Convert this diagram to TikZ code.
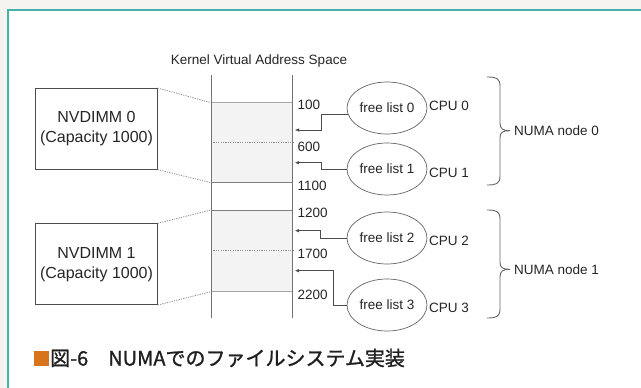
\documentclass[tikz,border=0pt]{standalone}
\usepackage{fontspec}
\setmainfont{Liberation Sans}
\newfontfamily\cjk[FakeBold=1.2]{Noto Sans CJK JP}
\usetikzlibrary{arrows.meta,shapes.geometric}
\definecolor{frameteal}{HTML}{45B3A8}
\definecolor{capor}{HTML}{D8741C}
\definecolor{outbg}{HTML}{F6F4F1}
\definecolor{rowfill}{HTML}{F3F3F3}
\begin{document}
\begin{tikzpicture}[x=1pt,y=-1pt,
  lbl/.style={font=\fontsize{13.5}{16}\selectfont, text=black!85, inner sep=0},
  ell/.style={ellipse, draw=black!60, line width=0.7pt, minimum width=80pt, minimum height=52pt, inner sep=0, fill=white, font=\fontsize{13.5}{16}\selectfont, text=black!85},
  nvbox/.style={draw=black!70, line width=0.7pt, minimum width=121.6pt, minimum height=81pt, inner sep=0, align=center, font=\fontsize{16}{20}\selectfont, text=black!85},
  arr/.style={draw=black!70, line width=0.9pt, -{Latex[length=4.5pt,width=3.5pt]}},
  dotl/.style={draw=black!45, line width=0.8pt, dash pattern=on 1.2pt off 1.2pt},
  coll/.style={draw=black!55, line width=0.9pt},
  rowl/.style={draw=black!35, line width=0.8pt},
  brc/.style={draw=black!60, line width=0.9pt}
]
% background and frame
\fill[outbg] (0,0) rectangle (641,388);
\fill[white] (8,10) rectangle (641,388);
\useasboundingbox (0,0) rectangle (641,388);
\draw[frameteal, line width=2pt] (7.3,10) -- (641,10);
\draw[frameteal, line width=1.5pt] (8,9) -- (8,388);

% title
\node[lbl] (title) at (259,61) {Kernel Virtual Address Space};

% address column
\fill[rowfill] (211,102.7) rectangle (292.7,182.7);
\fill[rowfill] (211,210) rectangle (292.7,291.7);
\coordinate (c100l) at (211,102.7);  \coordinate (c100r) at (292.7,102.7);
\coordinate (c600l) at (211,142.7);  \coordinate (c600r) at (292.7,142.7);
\coordinate (c1100l) at (211,182.7); \coordinate (c1100r) at (292.7,182.7);
\coordinate (c1200l) at (211,210);   \coordinate (c1200r) at (292.7,210);
\coordinate (c1700l) at (211,250.7); \coordinate (c1700r) at (292.7,250.7);
\coordinate (c2200l) at (211,291.7); \coordinate (c2200r) at (292.7,291.7);
\draw[rowl] (c100l) -- (c100r);
\draw[dotl] (c600l) -- (c600r);
\draw[rowl, draw=black!50] (c1100l) -- (c1100r);
\draw[rowl, draw=black!50] (c1200l) -- (c1200r);
\draw[dotl] (c1700l) -- (c1700r);
\draw[rowl] (c2200l) -- (c2200r);
\coordinate (coltl) at (211,75);   \coordinate (colbl) at (211,318);
\coordinate (coltr) at (292.7,75); \coordinate (colbr) at (292.7,318);
\draw[coll] (coltl) -- (colbl);
\draw[coll] (coltr) -- (colbr);

% address labels
\node[lbl, anchor=west] (a100)  at (297.5,105)   {100};
\node[lbl, anchor=west] (a600)  at (297.5,146.5) {600};
\node[lbl, anchor=west] (a1100) at (297.5,186)   {1100};
\node[lbl, anchor=west] (a1200) at (297.5,213)   {1200};
\node[lbl, anchor=west] (a1700) at (297.5,254)   {1700};
\node[lbl, anchor=west] (a2200) at (297.5,295)   {2200};

% NVDIMM boxes
\node[nvbox] (nv0) at (96.5,128.8) {NVDIMM 0\\(Capacity 1000)};
\node[nvbox] (nv1) at (96.5,264.2) {NVDIMM 1\\(Capacity 1000)};
\draw[dotl] (nv0.north east) -- (c100l);
\draw[dotl] (nv0.south east) -- (c1100l);
\draw[dotl] (nv1.north east) -- (c1200l);
\draw[dotl] (nv1.south east) -- (c2200l);

% free lists
\node[ell] (fl0) at (387,108) {free list 0};
\node[ell] (fl1) at (387,169) {free list 1};
\node[ell] (fl2) at (387,238) {free list 2};
\node[ell] (fl3) at (387,305) {free list 3};

\node[lbl, anchor=west] (cpu0) at (429,105.7) {CPU 0};
\node[lbl, anchor=west] (cpu1) at (429,173)   {CPU 1};
\node[lbl, anchor=west] (cpu2) at (429,240.5) {CPU 2};
\node[lbl, anchor=west] (cpu3) at (429,307.5) {CPU 3};

% arrows
\coordinate (b0) at (321,130);   \coordinate (t0) at (294.5,130);
\coordinate (b1) at (321,162.7); \coordinate (t1) at (294.5,162.7);
\coordinate (b2) at (320,230.7); \coordinate (t2) at (294.5,230.7);
\coordinate (b3) at (333,270.7); \coordinate (t3) at (294.5,270.7);
\draw[arr] (fl0.190) -| (b0) -- (t0);
\draw[arr] (fl1.west) -| (b1) -- (t1);
\draw[arr] (fl2.west) -| (b2) -- (t2);
\draw[arr] (fl3.west) -| (b3) -- (t3);

% braces
\draw[brc] (487,77) .. controls (496,77) and (500,78) .. (500,86) -- (500,123)
  .. controls (500,129) and (503,130.7) .. (510,130.7)
  .. controls (503,130.7) and (500,132) .. (500,138) -- (500,176)
  .. controls (500,184) and (496,185) .. (487,185);
\draw[brc] (487,210) .. controls (496,210) and (500,211) .. (500,219) -- (500,262)
  .. controls (500,268) and (503,269.3) .. (510,269.3)
  .. controls (503,269.3) and (500,271) .. (500,277) -- (500,309)
  .. controls (500,317) and (496,318) .. (487,318);
\node[lbl, anchor=west] (numa0) at (514,130.7) {NUMA node 0};
\node[lbl, anchor=west] (numa1) at (514,269.3) {NUMA node 1};

% caption
\node[fill=capor, minimum size=15pt, inner sep=0] (sq) at (41,358) {};
\node[anchor=west, inner sep=0, font=\cjk\fontsize{20}{22}\selectfont, text=black!88] (cap) at (50,358) {図-6\hspace{1em}NUMAでのファイルシステム実装};
\end{tikzpicture}
\end{document}
